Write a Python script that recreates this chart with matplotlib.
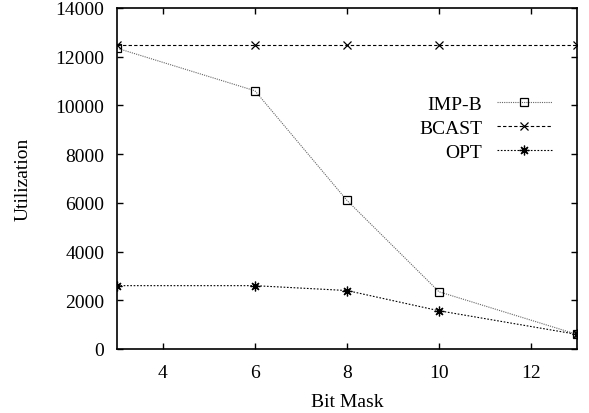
import matplotlib
matplotlib.use("Agg")
import matplotlib.pyplot as plt

bit_mask = [3, 6, 8, 10, 13]
imp_b = [12350, 10600, 6100, 2350, 600]
bcast = [12500, 12500, 12500, 12500, 12500]
opt = [2600, 2600, 2400, 1570, 600]

plt.rcParams["font.family"] = ["Liberation Serif", "DejaVu Serif"]
plt.rcParams["font.size"] = 14

fig = plt.figure(figsize=(5.89, 4.14), dpi=100)
ax = fig.add_axes([0.1986, 0.1546, 0.781, 0.8237])

asterisk = (8, 2, 0)
ax.plot(bit_mask, imp_b, color="#666666", linestyle=(0, (1, 1)), linewidth=0.8,
        marker="s", markersize=6, markerfacecolor="none", markeredgecolor="black",
        markeredgewidth=0.9, label="IMP-B")
ax.plot(bit_mask, bcast, color="black", linestyle=(0, (3, 2)), linewidth=0.8,
        marker="x", markersize=6, markeredgewidth=0.9, label="BCAST")
ax.plot(bit_mask, opt, color="black", linestyle=(0, (1.5, 1.5)), linewidth=0.8,
        marker=asterisk, markersize=7, markeredgewidth=0.9, label="OPT")

ax.set_xlim(3, 13)
ax.set_ylim(0, 14000)
ax.set_xticks([4, 6, 8, 10, 12])
ax.set_yticks(range(0, 14001, 2000))
ax.tick_params(direction="in", top=True, right=True, length=4, width=1)
ax.tick_params(axis="x", pad=10.5)
ax.tick_params(axis="y", pad=9)
for s in ax.spines.values():
    s.set_linewidth(1.2)

ax.set_xlabel("Bit Mask", labelpad=9)
ax.set_ylabel("Utilization", labelpad=17)

ax.legend(loc="upper right", bbox_to_anchor=(552 / 589, 1 - 96 / 414), bbox_transform=fig.transFigure,
          frameon=False, markerfirst=False, handlelength=2.85, handletextpad=0.75,
          labelspacing=0.33, borderpad=0, borderaxespad=0)

fig.savefig("out.png", dpi=100)
